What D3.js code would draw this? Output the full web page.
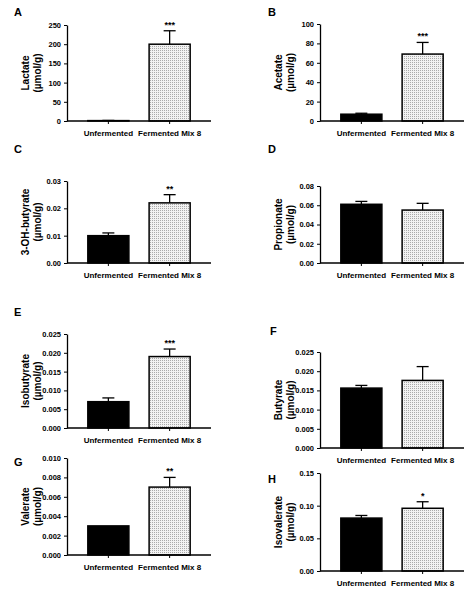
<!DOCTYPE html><html><head><script src="https://cdn.jsdelivr.net/npm/d3@7"></script>
<style>body{margin:0;background:#fff}text{font-family:"Liberation Sans",Arial,sans-serif;font-weight:bold;fill:#000}</style></head><body>
<svg id="c" width="474" height="616"></svg>
<script>
const categories=["Unfermented","Fermented Mix 8"];
const letters=["A","B","C","D","E","F","G","H"];
const names=["Lactate","Acetate","3-OH-butyrate","Propionate","Isobutyrate","Butyrate","Valerate","Isovalerate"];
const means=[[1,200],[7,69],[0.010,0.022],[0.061,0.055],[0.007,0.019],[0.0156,0.0176],[0.003,0.007],[0.081,0.096]];
const errs=[[0.5,35],[1,12],[0.001,0.003],[0.003,0.007],[0.001,0.002],[0.0007,0.0036],[0,0.001],[0.004,0.010]];
const stars=["***","***","**","","***","","**","*"];
const yMax=[250,100,0.03,0.08,0.025,0.025,0.010,0.15];
const yStep=[50,20,0.01,0.02,0.005,0.005,0.002,0.05];
const yFmt=[".0f",".0f",".2f",".2f",".3f",".3f",".3f",".2f"];
const layout=[[67,25,121],[320,24,121],[67,181,263],[320,186,263],[67,334,428],[320,352,448],[67,458,555],[320,473,571]];
const letterPos=[[14,16],[268,16],[14,153],[268,153],[14,316],[270,335],[14,466],[268,483]];
const svg=d3.select("#c");
const defs=svg.append("defs");
const p=defs.append("pattern").attr("id","dots").attr("width",2).attr("height",2).attr("patternUnits","userSpaceOnUse");
p.append("rect").attr("width",2).attr("height",2).attr("fill","#f2f2f2");
p.append("rect").attr("width",1).attr("height",1).attr("fill","#aaa");
letters.forEach((L,i)=>{
  const [x0,yt,yb]=layout[i], w=144;
  const g=svg.append("g");
  const y=d3.scaleLinear().domain([0,yMax[i]]).range([yb,yt]);
  const x=d3.scaleBand().domain(categories).range([x0,x0+w]).paddingInner(0.33).paddingOuter(0.34);
  const ticks=d3.range(0,yMax[i]+yStep[i]/2,yStep[i]);
  const ya=g.append("g").attr("transform",`translate(${x0},0)`).call(d3.axisLeft(y).tickValues(ticks).tickFormat(d3.format(yFmt[i])).tickSize(3).tickSizeOuter(0));
  ya.select(".domain").attr("stroke-width",1.3);
  ya.selectAll("text").attr("font-size",7.5).attr("fill","#000");
  categories.forEach((c,j)=>{
    const m=means[i][j],e=errs[i][j],bx=x(c),bw=x.bandwidth(),cx=bx+bw/2;
    if(e>0){g.append("line").attr("x1",cx).attr("x2",cx).attr("y1",y(m)).attr("y2",y(m+e)).attr("stroke","#000").attr("stroke-width",1.3);
    g.append("line").attr("x1",cx-6).attr("x2",cx+6).attr("y1",y(m+e)).attr("y2",y(m+e)).attr("stroke","#000").attr("stroke-width",1.3);}
    g.append("rect").attr("x",bx).attr("width",bw).attr("y",y(m)).attr("height",yb-y(m)).attr("fill",j==0?"#000":"url(#dots)").attr("stroke","#000").attr("stroke-width",1.5);
    if(j==1&&stars[i])g.append("text").attr("x",cx).attr("y",y(m+e)-3).attr("text-anchor","middle").attr("font-size",9).text(stars[i]);
  });
  const xa=g.append("g").attr("transform",`translate(0,${yb})`).call(d3.axisBottom(x).tickSize(3).tickSizeOuter(0));
  xa.select(".domain").attr("stroke-width",1.3).attr("d",`M${x0},0H${x0+w}`);
  xa.selectAll("text").attr("font-size",8).attr("dy","1.1em").attr("fill","#000");
  const lx=x0-37, ly=(yt+yb)/2;
  const t=svg.append("text").attr("transform",`translate(${lx},${ly}) rotate(-90)`).attr("text-anchor","middle").attr("font-size",10);
  t.append("tspan").attr("x",0).attr("dy","-0.1em").text(names[i]);
  t.append("tspan").attr("x",0).attr("dy","1.15em").text("(µmol/g)");
  svg.append("text").attr("x",letterPos[i][0]).attr("y",letterPos[i][1]).attr("font-size",11).text(L);
});
</script></body></html>
